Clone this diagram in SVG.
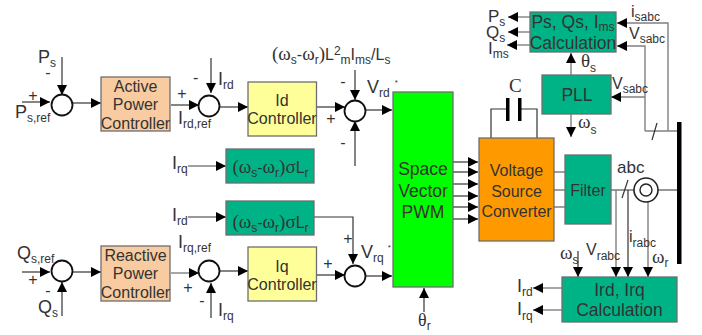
<svg xmlns="http://www.w3.org/2000/svg" width="702" height="335" viewBox="0 0 702 335">
<style>
text{font-family:"Liberation Sans",Arial,sans-serif;font-size:16px;fill:#333}
.m{text-anchor:middle}
.l{font-size:18px}
.c{font-size:17.5px}
.s{font-size:12px;font-family:"Liberation Sans",Arial,sans-serif}
.g{font-family:"Liberation Serif","DejaVu Serif",serif}
.w{font-family:"Liberation Serif","DejaVu Serif",serif;font-size:19px}
.t{font-size:8px}
.box{stroke:#6e6e6e;stroke-width:1.3}
.sum{fill:#fff;stroke:#111;stroke-width:1.8}
.k{fill:none;stroke:#333;stroke-width:1.2}
.a{fill:none;stroke:#333;stroke-width:1.2;marker-end:url(#ah)}
.q{fill:none;stroke:#808080;stroke-width:1.4}
.qa{fill:none;stroke:#808080;stroke-width:1.4;marker-end:url(#ah)}
</style>
<defs>
<marker id="ah" markerUnits="userSpaceOnUse" markerWidth="10" markerHeight="10" refX="10" refY="5" orient="auto"><path d="M0 0L10 5L0 10Z" fill="#000"/></marker>
</defs>
<rect width="702" height="335" fill="#fff"/>
<g id="connectors">
<path class="a" d="M62 57V95"/><path class="a" d="M22 102H50"/><path class="a" d="M72 103H101"/>
<path class="a" d="M171 105H199"/><path class="a" d="M211 58V93"/><path class="a" d="M220 107H248"/>
<path class="a" d="M316 107H345"/><path class="a" d="M355 70V100"/><path class="a" d="M355 166V121"/><path class="a" d="M366 110H392"/>
<path class="qa" d="M188 166H226"/><path class="a" d="M188 217H226"/><path class="a" d="M314 217H353V264"/>
<path class="a" d="M22 272H50"/><path class="a" d="M62 316V282"/><path class="a" d="M73 272H101"/>
<path class="qa" d="M171 273H199"/><path class="a" d="M211 318V283"/><path class="a" d="M220 271H248"/>
<path class="a" d="M316 275H345"/><path class="a" d="M366 276H392"/><path class="a" d="M424 312V288"/>
<path class="a" d="M453 162H478"/><path class="a" d="M453 172H478"/><path class="a" d="M453 184H478"/><path class="a" d="M453 196H478"/><path class="a" d="M453 207H478"/><path class="a" d="M453 219H478"/>
<path class="q" d="M554 172H565M554 190H565M554 207H565"/>
<path class="k" d="M491 138V109H508M519 109H537V138"/>
<path class="k" d="M611 190H634M658 190H679"/><path class="k" d="M622 198L628 180"/>
<path class="qa" d="M616 190V277"/><path class="a" d="M628 190V277"/><path class="qa" d="M648 190V277"/><path class="a" d="M578 251V277"/>
<path class="qa" d="M562 288H533"/><path class="qa" d="M562 310H533"/>
<path class="q" d="M645 131H679"/><path class="qa" d="M645 131V46H617"/><path class="qa" d="M668 131V23H617"/><path class="k" d="M652 140L657 123"/>
<path class="qa" d="M645 97H611"/><path class="qa" d="M571 75V53"/><path class="qa" d="M571 114V137"/>
<path class="qa" d="M530 17H508"/><path class="qa" d="M530 32H508"/><path class="qa" d="M530 45H507"/>
<rect x="506" y="98" width="3.5" height="23" fill="#000"/><rect x="518" y="98" width="3.5" height="23" fill="#000"/>
<rect x="677" y="122" width="4.5" height="142" fill="#000"/>
</g>
<g id="sum-p"><circle class="sum" cx="62" cy="105" r="10.5"/></g>
<g id="sum-rd"><circle class="sum" cx="209" cy="106" r="10.5"/></g>
<g id="sum-vd"><circle class="sum" cx="355" cy="111" r="10.5"/></g>
<g id="sum-q"><circle class="sum" cx="62" cy="271" r="10.5"/></g>
<g id="sum-rq"><circle class="sum" cx="209" cy="271" r="10.5"/></g>
<g id="sum-vq"><circle class="sum" cx="355" cy="276" r="10.5"/></g>
<g id="sensor"><circle cx="646" cy="190" r="12" fill="#fff" stroke="#222" stroke-width="1.6"/><circle cx="646" cy="190" r="6" fill="none" stroke="#222" stroke-width="1.4"/></g>
<g id="active"><rect class="box" x="101" y="77" width="69" height="54" fill="#F8CBA0"/><text class="m" x="135.500" y="92">Active</text><text class="m" x="135.500" y="110">Power</text><text class="m" x="135.500" y="129">Controller</text></g>
<g id="idc"><rect class="box" x="248" y="82" width="68.500" height="54" fill="#FFFF99"/><text class="m" x="282" y="106">Id</text><text class="m" x="282" y="124">Controller</text></g>
<g id="cross1"><rect class="box" x="226" y="149" width="88" height="34" fill="#00B386"/><text class="m" x="270.500" y="173"><tspan class="w">(ω</tspan><tspan class="s" dy="4">s</tspan><tspan dy="-4">-</tspan><tspan class="w">ω</tspan><tspan class="s" dy="4">r</tspan><tspan class="w" dy="-4">)σ</tspan>L<tspan class="s" dy="4">r</tspan></text></g>
<g id="cross2"><rect class="box" x="226" y="201" width="88" height="34" fill="#00B386"/><text class="m" x="270.500" y="228"><tspan class="w">(ω</tspan><tspan class="s" dy="4">s</tspan><tspan dy="-4">-</tspan><tspan class="w">ω</tspan><tspan class="s" dy="4">r</tspan><tspan class="w" dy="-4">)σ</tspan>L<tspan class="s" dy="4">r</tspan></text></g>
<g id="reactive"><rect class="box" x="101" y="246" width="69" height="55" fill="#F8CBA0"/><text class="m" x="135.500" y="261">Reactive</text><text class="m" x="135.500" y="279">Power</text><text class="m" x="135.500" y="298">Controller</text></g>
<g id="iqc"><rect class="box" x="248" y="247" width="68.500" height="54" fill="#FFFF99"/><text class="m" x="282" y="272">Iq</text><text class="m" x="282" y="290">Controller</text></g>
<g id="pwm"><rect class="box" x="393" y="92" width="60" height="195" fill="#00FF00"/><text class="m c" x="423" y="175">Space</text><text class="m c" x="423" y="197">Vector</text><text class="m c" x="423" y="218">PWM</text></g>
<g id="vsc"><rect class="box" x="479" y="138" width="75" height="103" fill="#FF9900"/><text class="m" x="516.500" y="176">Voltage</text><text class="m" x="516.500" y="197">Source</text><text class="m" x="516.500" y="217">Converter</text></g>
<g id="filter"><rect class="box" x="565" y="155" width="46" height="69" fill="#00B386"/><text class="m" x="588" y="196">Filter</text></g>
<g id="pll"><rect class="box" x="542" y="75" width="69" height="39" fill="#00B386"/><text class="m c" x="577" y="101">PLL</text></g>
<g id="pscalc"><rect class="box" x="530" y="12" width="86" height="40" fill="#00B386"/><text class="m c" x="573" y="28">Ps, Qs, I<tspan class="s" dy="3">ms</tspan></text><text class="m c" x="573" y="49">Calculation</text></g>
<g id="irdcalc"><rect class="box" x="562" y="277" width="115" height="45" fill="#00B386"/><text class="m c" x="619.500" y="296">Ird, Irq</text><text class="m c" x="619.500" y="316">Calculation</text></g>
<g id="labels">
<text class="l" x="38" y="63">P<tspan class="s" dy="4">s</tspan></text><text class="m" x="48" y="78">-</text><text class="m" x="33" y="101">+</text>
<text class="l" x="15" y="118">P<tspan class="s" dy="4">s,ref</tspan></text>
<text class="m" x="182" y="99">+</text><text x="193" y="83">-</text><text class="l" x="218" y="85">I<tspan class="s" dy="4">rd</tspan></text>
<text class="l" x="178" y="124">I<tspan class="s" dy="4">rd,ref</tspan></text>
<text class="m" x="331" y="124">+</text><text class="m" x="343" y="87">-</text><text class="m" x="343" y="148">-</text>
<text x="272" y="60"><tspan class="w">(ω</tspan><tspan class="s" dy="4">s</tspan><tspan dy="-4">-</tspan><tspan class="w">ω</tspan><tspan class="s" dy="4">r</tspan><tspan class="w" dy="-4">)</tspan>L<tspan class="s" dy="-5">2</tspan><tspan class="s" dy="9">m</tspan><tspan dy="-4">I</tspan><tspan class="s" dy="4">ms</tspan><tspan dy="-4">/L</tspan><tspan class="s" dy="4">s</tspan></text>
<text class="l" x="367" y="93">V<tspan class="s" dy="4">rd</tspan><tspan class="t" dx="5" dy="-12">*</tspan></text>
<text class="l" x="172" y="169">I<tspan class="s" dy="4">rq</tspan></text>
<text class="l" x="172" y="221">I<tspan class="s" dy="4">rd</tspan></text>
<text class="l" x="17" y="259">Q<tspan class="s" dy="4">s,ref</tspan></text><text class="m" x="33" y="285">+</text><text class="m" x="48" y="296">-</text>
<text class="l" x="38" y="313">Q<tspan class="s" dy="4">s</tspan></text>
<text class="l" x="178" y="248">I<tspan class="s" dy="4">rq,ref</tspan></text><text class="m" x="188" y="293">+</text><text class="m" x="202" y="306">-</text>
<text class="l" x="218" y="316">I<tspan class="s" dy="4">rq</tspan></text>
<text class="m" x="348" y="244">+</text><text class="m" x="328" y="269">+</text>
<text class="l" x="361" y="258">V<tspan class="s" dy="4">rq</tspan><tspan class="t" dx="4" dy="-12">*</tspan></text>
<text class="g l" x="418" y="326">θ<tspan class="s" dy="4">r</tspan></text>
<text class="g" x="509" y="92" style="font-size:19px">C</text>
<text x="488" y="22" style="font-size:17px">P<tspan class="s" dy="4">s</tspan></text><text x="486" y="38" style="font-size:17px">Q<tspan class="s" dy="4">s</tspan></text><text x="488" y="54" style="font-size:17px">I<tspan class="s" dy="4">ms</tspan></text>
<text x="631" y="17">i<tspan class="s" dy="4">sabc</tspan></text><text x="629" y="39">V<tspan class="s" dy="4">sabc</tspan></text>
<text x="612" y="89">V<tspan class="s" dy="4">sabc</tspan></text>
<text class="w" x="581" y="67">θ<tspan class="s" dy="5">s</tspan></text>
<text class="w" x="578" y="128">ω<tspan class="s" dy="6">s</tspan></text>
<text x="617" y="173" style="font-size:17px">abc</text>
<text class="w" x="560" y="259">ω<tspan class="s" dy="5">s</tspan></text>
<text x="586" y="255">V<tspan class="s" dy="5">rabc</tspan></text>
<text x="629" y="242">i<tspan class="s" dy="5">rabc</tspan></text>
<text class="w" x="652" y="263">ω<tspan class="s" dy="4">r</tspan></text>
<text class="l" x="517" y="292">I<tspan class="s" dy="4">rd</tspan></text><text class="l" x="517" y="315">I<tspan class="s" dy="5">rq</tspan></text>
</g>
</svg>
